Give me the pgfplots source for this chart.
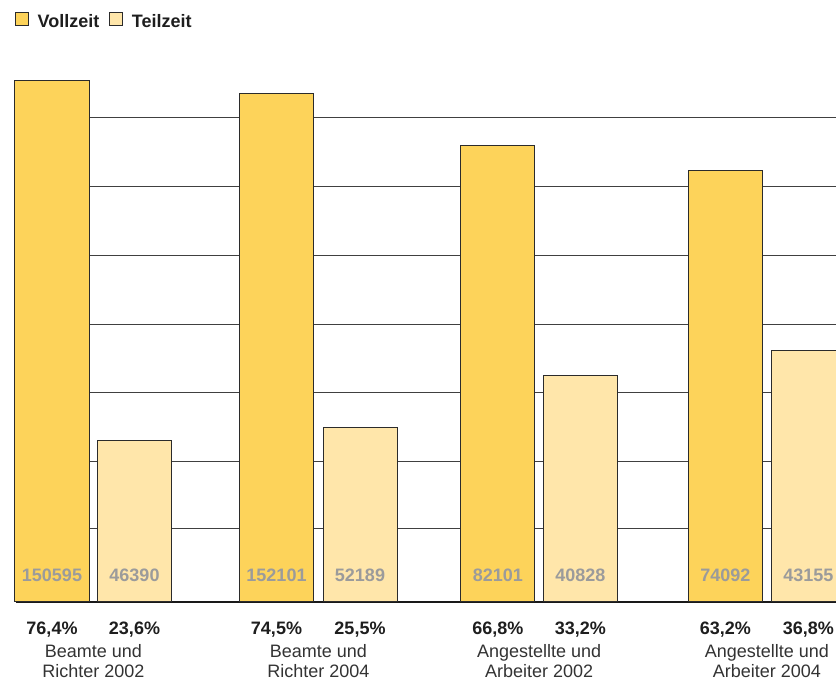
\documentclass[border=0pt]{standalone}
\usepackage{pgfplots}
\pgfplotsset{compat=1.18}
\usepackage{pgfplotstable}
\usepackage{fontspec}
\setmainfont{Liberation Sans}
\definecolor{voll}{HTML}{FDD35A}
\definecolor{teil}{HTML}{FFE6AA}
\definecolor{edge}{HTML}{2B2B2B}
\definecolor{cnt}{HTML}{9B9B9B}
\definecolor{txt}{HTML}{1E1E1E}
\definecolor{cat}{HTML}{333333}

% xc: group centre, xv/xt: bar centres (pixel-like axis units)
\pgfplotstableread{
xc     xv     xt     pvoll  pteil  nvoll   nteil
93.5   52.0   134.5  76.4   23.6   150595  46390
318.5  276.5  360.0  74.5   25.5   152101  52189
539.2  497.8  580.4  66.8   33.2   82101   40828
766.8  725.3  808.3  63.2   36.8   74092   43155
}\datatable

\begin{document}
\begin{tikzpicture}
\begin{axis}[
  at={(11.25pt,59.25pt)}, anchor=south west,
  scale only axis, width=615.75pt, height=409.8pt,
  xmin=15, xmax=836, ymin=0, ymax=80,
  clip=false,
  axis x line=bottom, axis y line*=left,
  y axis line style={draw=none},
  x axis line style={-, line width=1.5pt, draw=black!90, shorten <=0.75pt},
  ytick={10.7,20.6,30.6,40.7,50.8,60.9,71.0}, yticklabels={},
  ytick style={draw=none},
  ymajorgrids, grid style={black!75, line width=0.75pt},
  xtick={93.5,318.5,539.2,766.8},
  xticklabels={Beamte und\\Richter 2002, Beamte und\\Richter 2004, Angestellte und\\Arbeiter 2002, Angestellte und\\Arbeiter 2004},
  major tick length=0pt,
  xticklabel style={align=center, font=\fontsize{13.5}{15.5}\selectfont, text=cat, anchor=north, yshift=-28pt},
  bar width=74,
  legend columns=-1,
  legend style={at={(0.0,1.0805)}, anchor=north west, draw=none, fill=none, inner sep=0pt,
    font=\bfseries\fontsize{13.5}{15}\selectfont, text=txt,
    nodes={inner sep=0pt},
    /tikz/every odd column/.append style={column sep=6.5pt},
    /tikz/every even column/.append style={column sep=7.5pt}},
  legend image code/.code={\draw[#1, line width=0.75pt] (0pt,-2.6pt) rectangle (9.6pt,7.0pt);},
]
\addplot[ybar, bar shift=0pt, fill=voll, draw=edge, line width=0.75pt] table[x=xv, y=pvoll]{\datatable};
\addlegendentry{Vollzeit}
\addplot[ybar, bar shift=0pt, fill=teil, draw=edge, line width=0.75pt] table[x=xt, y=pteil]{\datatable};
\addlegendentry{Teilzeit}

% counts inside bars
\addplot[forget plot, only marks, mark=*, mark size=0pt, mark options={draw=none,fill=none},
  point meta=explicit symbolic, nodes near coords,
  every node near coord/.style={anchor=base, inner sep=0pt, font=\bfseries\fontsize{13.5}{15}\selectfont, text=cnt}]
  table[x=xv, y expr=3.07, meta=nvoll]{\datatable};
\addplot[forget plot, only marks, mark=*, mark size=0pt, mark options={draw=none,fill=none},
  point meta=explicit symbolic, nodes near coords,
  every node near coord/.style={anchor=base, inner sep=0pt, font=\bfseries\fontsize{13.5}{15}\selectfont, text=cnt}]
  table[x=xt, y expr=3.07, meta=nteil]{\datatable};

% percentages below bars
\addplot[forget plot, only marks, mark=*, mark size=0pt, mark options={draw=none,fill=none},
  point meta=explicit, nodes near coords={\pgfmathprintnumber[fixed,fixed zerofill,precision=1,use comma,assume math mode=true]{\pgfplotspointmeta}\%},
  every node near coord/.style={anchor=base, inner sep=0pt, font=\bfseries\fontsize{13.5}{15}\selectfont, text=txt}]
  table[x=xv, y expr=-4.83, meta=pvoll]{\datatable};
\addplot[forget plot, only marks, mark=*, mark size=0pt, mark options={draw=none,fill=none},
  point meta=explicit, nodes near coords={\pgfmathprintnumber[fixed,fixed zerofill,precision=1,use comma,assume math mode=true]{\pgfplotspointmeta}\%},
  every node near coord/.style={anchor=base, inner sep=0pt, font=\bfseries\fontsize{13.5}{15}\selectfont, text=txt}]
  table[x=xt, y expr=-4.83, meta=pteil]{\datatable};
\end{axis}
\pgfresetboundingbox
\useasboundingbox (0pt,0pt) rectangle (627pt,510.75pt);
\end{tikzpicture}
\end{document}
